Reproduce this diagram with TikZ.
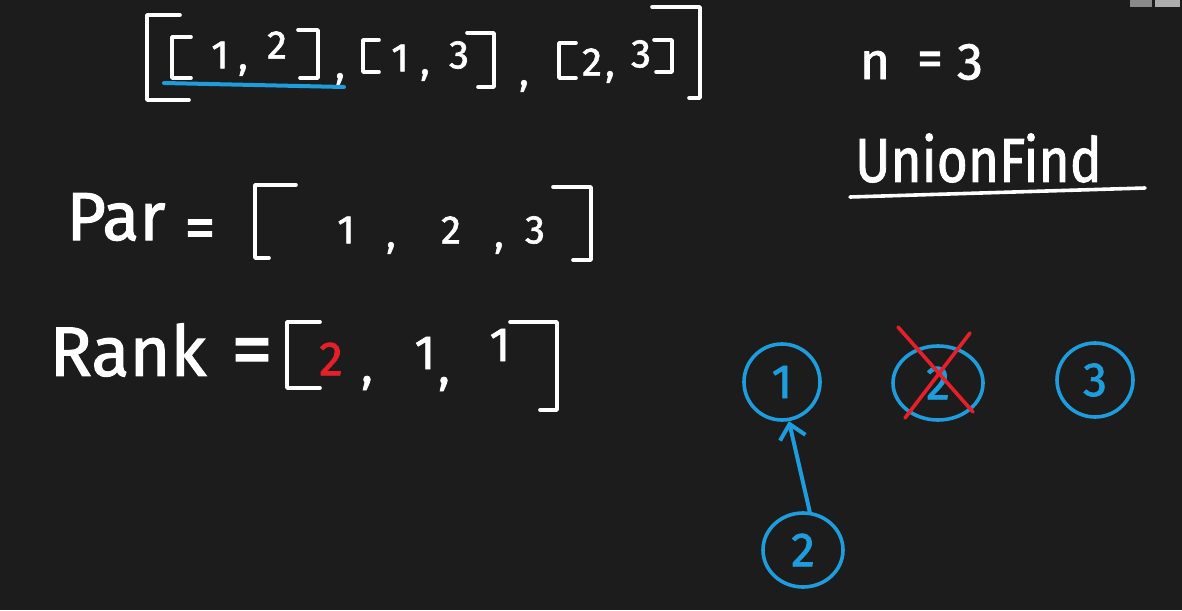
\documentclass[tikz,border=0pt]{standalone}
\usepackage{fontspec}
\setmainfont{Fira Sans}[FakeBold=1.5]
\usepackage{tikz}
\usetikzlibrary{shapes.geometric,arrows.meta}
\usepackage{xcolor}
\definecolor{BoardBlack}{HTML}{1C1C1C}
\definecolor{PenBlue}{HTML}{1E9CDB}
\definecolor{PenRed}{HTML}{E5202B}
\definecolor{IconGray}{HTML}{8A8A8A}
\tikzset{
  chalk/.style={white, line width=3.6pt, line cap=round, line join=round},
  bluepen/.style={PenBlue, line width=4pt, line cap=round, line join=round},
  redpen/.style={PenRed, line width=3.6pt, line cap=round},
  hand/.style={text=white, inner sep=0pt, font=\fontsize{#1}{#1}\selectfont},
  hand/.default=40,
  uf/.style={ellipse, draw=PenBlue, line width=3.6pt, inner sep=0pt, text=PenBlue, font=\fontsize{48}{48}\selectfont}
}
% square bracket: x of the upright, x ends of top and bottom, y top, y bottom
\newcommand{\sqbrk}[5]{\draw[chalk] (#2,#4) -- (#1,#4) -- (#1,#5) -- (#3,#5);}

\begin{document}
\begin{tikzpicture}[x=1pt,y=-1pt]
  \useasboundingbox (0,0) rectangle (1182,610);
  \fill[BoardBlack] (0,0) rectangle (1182,610);
  \fill[IconGray] (1130,0) rectangle (1152,7);
  \fill[IconGray!70] (1155,0) rectangle (1180,7);

  % edges list
  \sqbrk{147}{180}{189}{15}{100}
  \sqbrk{172}{191}{191}{37}{78}
  \node[hand] (e1a) at (220,55) {1};
  \node[hand] (c1) at (243,70) {,};
  \node[hand] (e1b) at (277,45) {2};
  \sqbrk{318}{298}{300}{30}{78}
  \node[hand] (c2) at (340,79) {,};
  \sqbrk{363}{379}{379}{40}{72}
  \node[hand] (e2a) at (400,58) {1};
  \node[hand] (c3) at (425,75) {,};
  \node[hand] (e2b) at (459,55) {3};
  \sqbrk{494}{467}{478}{33}{87}
  \node[hand] (c4) at (524,86) {,};
  \sqbrk{559}{576}{576}{43}{78}
  \node[hand] (e3a) at (592,62) {2};
  \node[hand] (c5) at (610,77) {,};
  \node[hand] (e3b) at (641,54) {3};
  \sqbrk{672}{654}{656}{40}{72}
  \sqbrk{700}{652}{689}{7}{98}
  \draw[bluepen] (164,83) -- (344,87);

  \node[hand=52] (nlbl) at (875,65) {n};
  \node[hand=52] (neq) at (930,64) {=};
  \node[hand=52] (nval) at (970,62) {3};
  \node[hand=62, anchor=west, xscale=0.86] (uflbl) at (855,158) {UnionFind};
  \draw[chalk] (850,197) -- (1145,188);

  % parent array
  \node[hand=68] (parlbl) at (116,217) {Par};
  \node[hand=62] (pareq) at (200,234) {=};
  \sqbrk{255}{296}{269}{185}{258}
  \node[hand] (p1) at (346,230) {1};
  \node[hand] (pc1) at (391,248) {,};
  \node[hand] (p2) at (451,230) {2};
  \node[hand] (pc2) at (499,248) {,};
  \node[hand] (p3) at (535,230) {3};
  \sqbrk{591}{553}{573}{187}{260}

  % rank array
  \node[hand=70] (ranklbl) at (128,350) {Rank};
  \node[hand=84] (rankeq) at (252,358) {=};
  \sqbrk{287}{320}{320}{322}{388}
  \node[hand=48, text=PenRed] (r1) at (331,359) {2};
  \node[hand=48] (rc1) at (367,383) {,};
  \node[hand=48] (r2) at (425,353) {1};
  \node[hand=48] (rc2) at (444,384) {,};
  \node[hand=48] (r3) at (500,345) {1};
  \sqbrk{557}{510}{540}{322}{410}

  % union find forest
  \node[uf, minimum width=76pt, minimum height=76pt] (n1) at (782,382) {1};
  \node[uf, minimum width=90pt, minimum height=74pt] (n2) at (938,383) {2};
  \node[uf, minimum width=76pt, minimum height=74pt] (n3) at (1095,380) {3};
  \node[uf, minimum width=80pt, minimum height=74pt] (n2b) at (803,550) {2};
  \draw[bluepen, -{Straight Barb[length=14pt,width=26pt]}] (n2b.80) -- (n1.280);
  \draw[redpen] (898,327) -- (973,412);
  \draw[redpen] (970,333) -- (905,418);
\end{tikzpicture}
\end{document}
